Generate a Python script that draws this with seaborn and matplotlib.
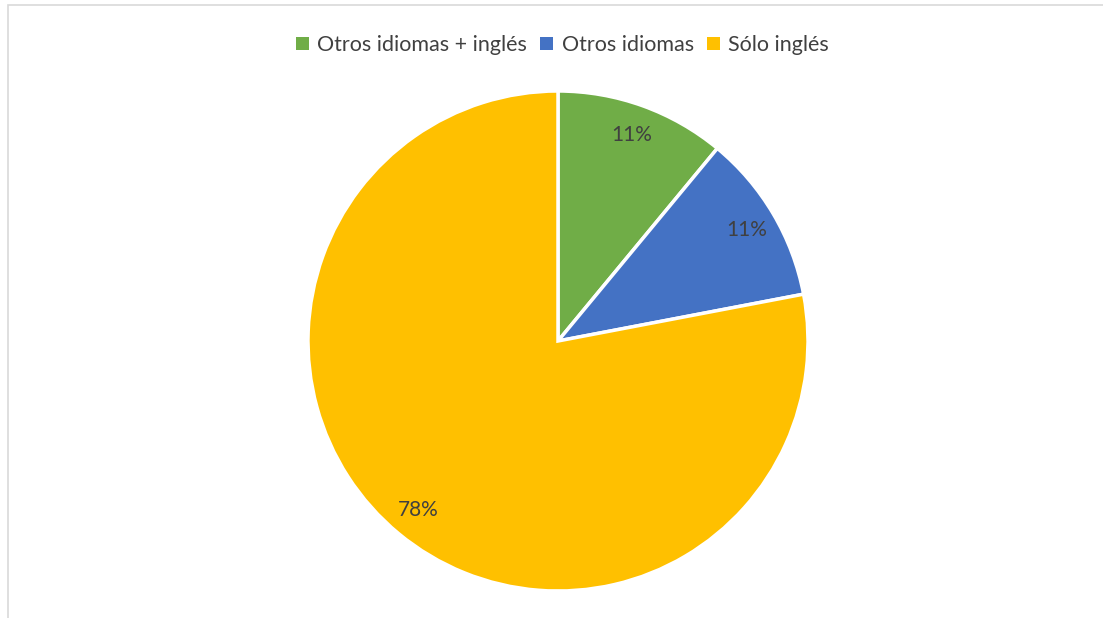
import matplotlib
matplotlib.use("Agg")
import matplotlib.pyplot as plt
from matplotlib.patches import Rectangle
import seaborn as sns

categories = ["Otros idiomas + inglés", "Otros idiomas", "Sólo inglés"]
shares = [11, 11, 78]
colors = ["#70AD47", "#4472C4", "#FFC000"]

sns.set_theme(style="white")
plt.rcParams["font.family"] = ["Lato", "DejaVu Sans"]

fig = plt.figure(figsize=(11.03, 6.18), dpi=100)
fig.patch.set_facecolor("white")

# light chart frame along the top and left edges
fig.add_artist(Rectangle((8 / 1103, -0.05), 1.2, 1 - 5 / 618 + 0.05,
                         transform=fig.transFigure, fill=False,
                         edgecolor="#D9D9D9", linewidth=1.2))

# pie centred at (558, 341) px with radius ~250 px
cx, cy, r = 558 / 1103, 1 - 341 / 618, 250
ax = fig.add_axes([cx - r / 1103, cy - r / 618, 2 * r / 1103, 2 * r / 618])
wedges, texts, autotexts = ax.pie(
    shares, colors=colors, startangle=90, counterclock=False,
    autopct=lambda p: f"{p:.0f}%", pctdistance=0.875,
    wedgeprops=dict(edgecolor="white", linewidth=2.5),
    textprops=dict(color="#404040", fontsize=15),
)
ax.set_xlim(-1.0, 1.0)
ax.set_ylim(-1.0, 1.0)
ax.set_aspect("equal")
ax.axis("off")

handles = [Rectangle((0, 0), 1, 1, facecolor=c, edgecolor="none") for c in colors]
fig.legend(handles, categories, loc="center", bbox_to_anchor=(0.51, 1 - 45 / 618),
           ncol=3, frameon=False, fontsize=15.5, labelcolor="#404040",
           handlelength=0.6, handleheight=0.6, handletextpad=0.4,
           columnspacing=0.6)

fig.savefig("out.png", dpi=100, facecolor="white")
